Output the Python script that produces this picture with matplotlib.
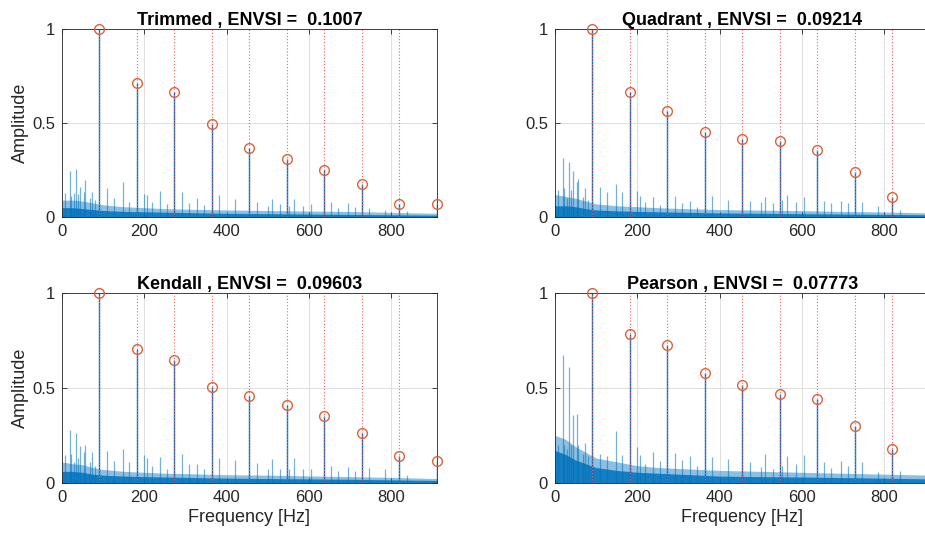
import matplotlib
matplotlib.use("Agg")
import matplotlib.pyplot as plt

plt.rcParams['font.family'] = ['Liberation Sans', 'DejaVu Sans']

# ---------------- data ----------------
fundamental = 91.1
x_max = 911.1

titles = ["Trimmed , ENVSI =  0.1007", "Quadrant , ENVSI =  0.09214",
          "Kendall , ENVSI =  0.09603", "Pearson , ENVSI =  0.07773"]

peaks_trimmed = [1.0, 0.713, 0.662, 0.494, 0.368, 0.308, 0.248, 0.177, 0.067, 0.067]
peaks_quadrant = [1.0, 0.662, 0.563, 0.453, 0.414, 0.404, 0.354, 0.237, 0.106]
peaks_kendall = [1.0, 0.708, 0.650, 0.507, 0.458, 0.408, 0.350, 0.264, 0.141, 0.116]
peaks_pearson = [1.0, 0.787, 0.725, 0.581, 0.514, 0.470, 0.440, 0.301, 0.180]

spike_freqs = [8, 18.6, 22, 29, 34.8, 39, 43, 53.5, 56.7, 67, 73.7, 80,
               109, 125.6, 147.5, 164, 199, 207, 218, 239, 254, 290.7, 308,
               329, 345, 382, 419.6, 473, 499.6, 511, 530, 552, 564.6, 586,
               604, 653.7, 671, 694, 711.7, 746.5, 784.6, 838]

spikes_trimmed = [0.126, 0.246, 0.11, 0.126, 0.254, 0.12, 0.161, 0.135, 0.197, 0.10, 0.135, 0.09,
                  0.152, 0.10, 0.184, 0.08, 0.12, 0.117, 0.08, 0.138, 0.07, 0.133, 0.076,
                  0.10, 0.065, 0.117, 0.094, 0.08, 0.06, 0.096, 0.07, 0.06, 0.094, 0.06,
                  0.07, 0.08, 0.05, 0.076, 0.055, 0.05, 0.04, 0.03]
spikes_quadrant = [0.144, 0.312, 0.152, 0.10, 0.29, 0.144, 0.246, 0.188, 0.20, 0.108, 0.152, 0.09,
                   0.158, 0.131, 0.174, 0.131, 0.138, 0.112, 0.08, 0.108, 0.064, 0.112, 0.073,
                   0.085, 0.055, 0.112, 0.09, 0.087, 0.08, 0.108, 0.073, 0.09, 0.117, 0.08,
                   0.108, 0.085, 0.073, 0.085, 0.073, 0.08, 0.058, 0.037]
spikes_kendall = [0.146, 0.277, 0.15, 0.11, 0.265, 0.13, 0.193, 0.163, 0.20, 0.11, 0.16, 0.09,
                  0.168, 0.116, 0.179, 0.109, 0.146, 0.128, 0.09, 0.137, 0.075, 0.149, 0.098,
                  0.098, 0.07, 0.128, 0.119, 0.102, 0.07, 0.123, 0.075, 0.07, 0.133, 0.07,
                  0.07, 0.088, 0.06, 0.084, 0.063, 0.08, 0.075, 0.04]
spikes_pearson = [0.20, 0.674, 0.20, 0.18, 0.612, 0.20, 0.358, 0.363, 0.20, 0.15, 0.212, 0.14,
                  0.153, 0.142, 0.274, 0.144, 0.186, 0.147, 0.10, 0.16, 0.112, 0.156, 0.121,
                  0.142, 0.09, 0.135, 0.125, 0.11, 0.084, 0.149, 0.075, 0.09, 0.142, 0.098,
                  0.146, 0.11, 0.08, 0.114, 0.089, 0.107, 0.058, 0.061]

# noise floor: dense core and sparse tips, read at these frequencies
band_freqs = [0, 25, 50, 75, 100, 150, 200, 250, 300, 350, 400, 500, 600, 700, 800, 911.1]
core_trimmed = [0.05, 0.05, 0.045, 0.04, 0.035, 0.03, 0.028, 0.026, 0.024, 0.022, 0.02, 0.018, 0.016, 0.014, 0.012, 0.01]
tips_trimmed = [0.09, 0.09, 0.085, 0.075, 0.065, 0.055, 0.05, 0.045, 0.042, 0.04, 0.038, 0.035, 0.032, 0.03, 0.025, 0.02]
core_quadrant = [0.06, 0.06, 0.055, 0.045, 0.038, 0.033, 0.03, 0.028, 0.026, 0.024, 0.022, 0.02, 0.018, 0.016, 0.014, 0.012]
tips_quadrant = [0.12, 0.11, 0.10, 0.085, 0.07, 0.06, 0.055, 0.05, 0.046, 0.043, 0.04, 0.037, 0.034, 0.03, 0.027, 0.022]
core_kendall = [0.06, 0.06, 0.055, 0.045, 0.04, 0.035, 0.032, 0.03, 0.028, 0.026, 0.024, 0.022, 0.02, 0.018, 0.015, 0.012]
tips_kendall = [0.11, 0.10, 0.095, 0.08, 0.07, 0.06, 0.055, 0.05, 0.048, 0.045, 0.042, 0.04, 0.036, 0.032, 0.028, 0.022]
core_pearson = [0.17, 0.15, 0.12, 0.10, 0.08, 0.065, 0.055, 0.05, 0.045, 0.04, 0.035, 0.032, 0.03, 0.027, 0.024, 0.02]
tips_pearson = [0.25, 0.23, 0.19, 0.16, 0.13, 0.11, 0.09, 0.08, 0.075, 0.07, 0.065, 0.06, 0.055, 0.05, 0.045, 0.04]

x_ticks = [0, 200, 400, 600, 800]
y_ticks = [0, 0.5, 1]
y_tick_labels = ["0", "0.5", "1"]

panels = [
    (titles[0], peaks_trimmed, spikes_trimmed, core_trimmed, tips_trimmed),
    (titles[1], peaks_quadrant, spikes_quadrant, core_quadrant, tips_quadrant),
    (titles[2], peaks_kendall, spikes_kendall, core_kendall, tips_kendall),
    (titles[3], peaks_pearson, spikes_pearson, core_pearson, tips_pearson),
]

# ---------------- drawing ----------------
BLUE = '#0072BD'
ORANGE = '#E0603A'
AXC = '#262626'

fig = plt.figure(figsize=(9.25, 5.4), dpi=100)
positions = [
    [0.0670, 0.598, 0.4054, 0.3487],
    [0.6000, 0.598, 0.4054, 0.3487],
    [0.0670, 0.1061, 0.4054, 0.3507],
    [0.6000, 0.1061, 0.4054, 0.3507],
]

for i, (title, peaks, spikes, core, tips) in enumerate(panels):
    ax = fig.add_axes(positions[i])
    ax.set_axisbelow(True)
    ax.grid(True, color='#dedede', linewidth=0.7)
    # noise floor
    ax.fill_between(band_freqs, 0, tips, color=BLUE, alpha=0.45, linewidth=0)
    ax.fill_between(band_freqs, 0, core, color=BLUE, alpha=0.85, linewidth=0)
    # noise spikes
    ax.vlines(spike_freqs, 0, spikes, color=BLUE, alpha=0.55, linewidth=0.9)
    # harmonics
    hf = [fundamental * (k + 1) for k in range(len(peaks))]
    ax.vlines(hf, 0, peaks, color=BLUE, linewidth=1.0)
    ax.vlines(hf, 0, 1, color='#ff6060', linestyles=(0, (1, 1.8)), linewidth=0.8)
    ax.plot(hf, peaks, 'o', markerfacecolor='none', markeredgecolor=ORANGE,
            markersize=7, markeredgewidth=1.0, clip_on=False, zorder=5)

    ax.set_xlim(0, x_max)
    ax.set_ylim(0, 1)
    ax.set_xticks(x_ticks)
    ax.set_yticks(y_ticks)
    ax.set_yticklabels(y_tick_labels)
    ax.tick_params(direction='in', length=3.5, width=0.6, colors=AXC,
                   labelsize=12, top=True, right=True, pad=5)
    for s in ax.spines.values():
        s.set_color(AXC)
        s.set_linewidth(0.6)
    ax.set_title(title, fontsize=13, fontweight='bold', pad=3, color='black')
    if i % 2 == 0:
        ax.set_ylabel('Amplitude', fontsize=13, color=AXC, labelpad=2)
    if i >= 2:
        ax.set_xlabel('Frequency [Hz]', fontsize=13, color=AXC, labelpad=3)

fig.savefig('out.png', dpi=100)
